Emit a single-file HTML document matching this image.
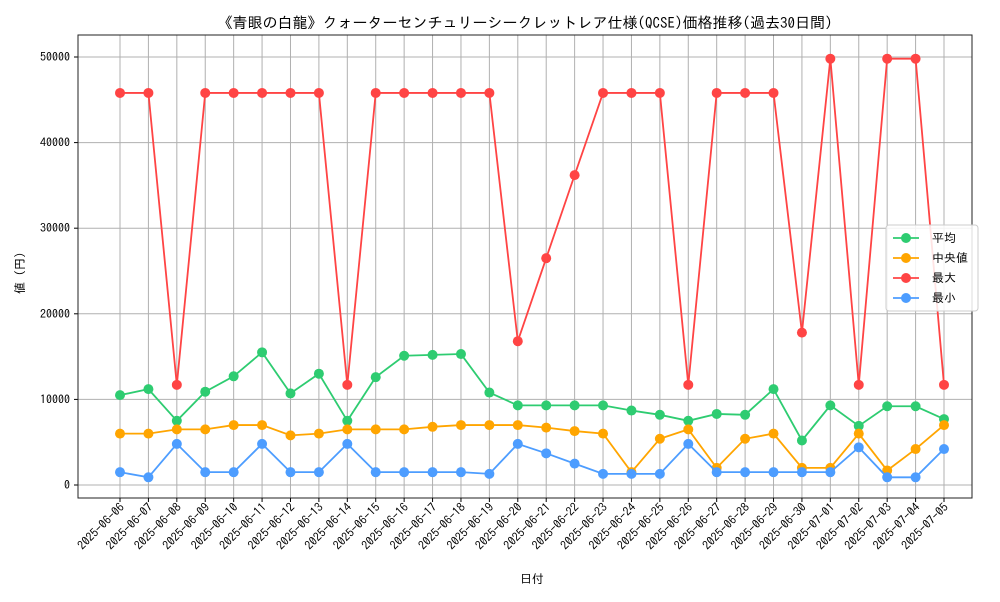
<!DOCTYPE html>
<html><head><meta charset="utf-8"><style>
body{margin:0;background:#fff;font-family:"IPAGothic","Noto Sans CJK JP",sans-serif;}
svg text{font-family:"IPAGothic","Noto Sans CJK JP",sans-serif;fill:#000;}
</style></head><body>
<svg id="chart" width="1000" height="600" xmlns="http://www.w3.org/2000/svg"></svg>
<script>
const dates=["2025-06-06","2025-06-07","2025-06-08","2025-06-09","2025-06-10","2025-06-11","2025-06-12","2025-06-13","2025-06-14","2025-06-15","2025-06-16","2025-06-17","2025-06-18","2025-06-19","2025-06-20","2025-06-21","2025-06-22","2025-06-23","2025-06-24","2025-06-25","2025-06-26","2025-06-27","2025-06-28","2025-06-29","2025-06-30","2025-07-01","2025-07-02","2025-07-03","2025-07-04","2025-07-05"];
const avgVals=[10500,11200,7500,10900,12700,15500,10700,13000,7500,12600,15100,15200,15300,10800,9300,9300,9300,9300,8700,8200,7500,8300,8200,11200,5200,9300,6900,9200,9200,7700];
const medVals=[6000,6000,6500,6500,7000,7000,5800,6000,6500,6500,6500,6800,7000,7000,7000,6700,6300,6000,1500,5400,6500,2000,5400,6000,2000,2000,6000,1700,4200,7000];
const maxVals=[45800,45800,11700,45800,45800,45800,45800,45800,11700,45800,45800,45800,45800,45800,16800,26500,36200,45800,45800,45800,11700,45800,45800,45800,17800,49800,11700,49800,49800,11700];
const minVals=[1500,900,4800,1500,1500,4800,1500,1500,4800,1500,1500,1500,1500,1300,4800,3700,2500,1300,1300,1300,4800,1500,1500,1500,1500,1500,4400,900,900,4200];
const yTicks=[0,10000,20000,30000,40000,50000];
const seriesNames=["平均","中央値","最大","最小"];
const NS="http://www.w3.org/2000/svg";
const svg=document.getElementById('chart');
const L=78,R=972,T=35,B=498;
const x=i=>120+i*(944-120)/(dates.length-1);
const y=v=>485-v*(485-57)/50000;
function mk(tag,attrs,parent){const e=document.createElementNS(NS,tag);for(const k in attrs)e.setAttribute(k,attrs[k]);(parent||svg).appendChild(e);return e;}
dates.forEach((d,i)=>{const g=mk('line',{x1:x(i),x2:x(i),y1:T,y2:B,stroke:'#b0b0b0','stroke-width':1});

});
yTicks.forEach(v=>{const g=mk('line',{x1:L,x2:R,y1:y(v),y2:y(v),stroke:'#b0b0b0','stroke-width':1});


const t=mk('text',{x:L-8,y:y(v)+4,'text-anchor':'end','font-size':12});t.textContent=v;


mk('line',{x1:L-4,x2:L,y1:y(v),y2:y(v),stroke:'#000'});});
const frame=mk('rect',{x:L,y:T,width:R-L,height:B-T,fill:'none',stroke:'#222','stroke-width':1});


dates.forEach((d,i)=>{mk('line',{x1:x(i),x2:x(i),y1:B,y2:B+4,stroke:'#000'});
const t=mk('text',{x:x(i)+5,y:B+10,'text-anchor':'end','font-size':12,transform:`rotate(-45 ${x(i)+5} ${B+10})`});t.textContent=d;

});
const colors=['#2ecc71','#ffa500','#ff4444','#4d9dff'];
const all=[avgVals,medVals,maxVals,minVals];
all.forEach((arr,s)=>{const p=mk('polyline',{points:arr.map((v,i)=>x(i)+','+y(v)).join(' '),fill:'none',stroke:colors[s],'stroke-width':1.8});


arr.forEach((v,i)=>{const c=mk('circle',{cx:x(i),cy:y(v),r:5,fill:colors[s]});

});});
const title=mk('text',{x:525,y:28,'text-anchor':'middle','font-size':15});title.textContent='《青眼の白龍》クォーターセンチュリーシークレットレア仕様(QCSE)価格推移(過去30日間)';


const xt=mk('text',{x:532,y:583,'text-anchor':'middle','font-size':12});xt.textContent='日付';


const yt=mk('text',{x:24,y:270,'text-anchor':'middle','font-size':12,transform:'rotate(-90 24 270)'});yt.textContent='値（円）';


const lg=mk('rect',{x:886,y:225,width:92,height:86,fill:'#fff','fill-opacity':0.85,stroke:'#ccc',rx:3});


seriesNames.forEach((n,s)=>{const yy=238+s*20;
mk('line',{x1:893,x2:919,y1:yy,y2:yy,stroke:colors[s],'stroke-width':1.8});
mk('circle',{cx:906,cy:yy,r:5,fill:colors[s]});
const t=mk('text',{x:932,y:yy+4,'font-size':12});t.textContent=n;

});
</script>
</body></html>
